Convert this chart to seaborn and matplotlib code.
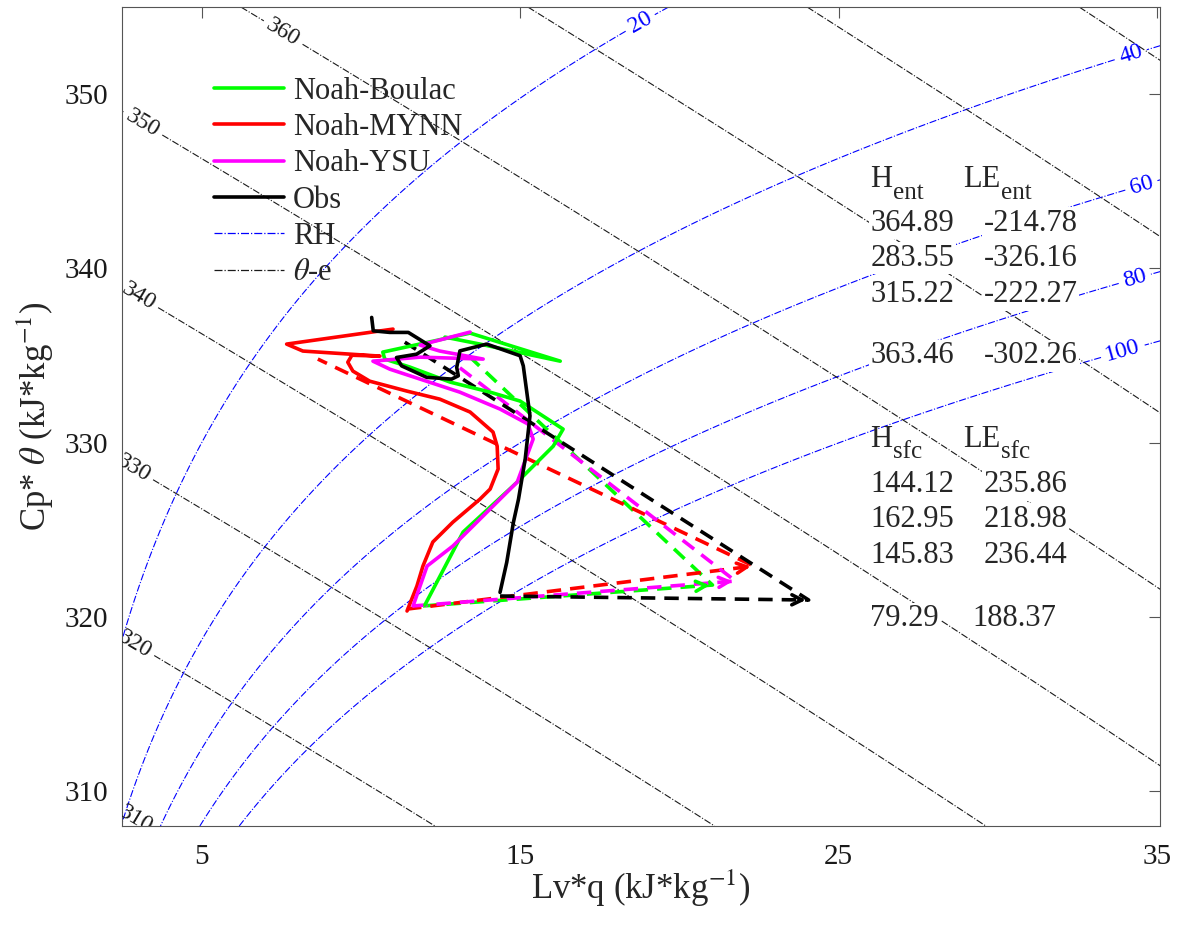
import numpy as np
import pandas as pd
import matplotlib
matplotlib.use("Agg")
import matplotlib.pyplot as plt
from matplotlib.lines import Line2D
import seaborn as sns

runs = ["Noah-Boulac", "Noah-MYNN", "Noah-YSU", "Obs"]
colors = {"Noah-Boulac": "#00ff00", "Noah-MYNN": "#ff0000",
          "Noah-YSU": "#ff00ff", "Obs": "#000000"}

# vertical profiles, Lv*q and Cp*theta (kJ/kg), from the surface up
boulac_q = [12.01, 13.21, 14.91, 16.04, 16.35, 15.00, 14.06, 12.80, 11.54, 10.75, 10.69, 13.43, 16.26, 13.74, 12.64]
boulac_t = [320.68, 324.87, 327.74, 329.80, 330.78, 332.39, 332.90, 333.48, 334.34, 334.80, 335.20, 336.29, 334.68, 335.66, 336.06]
mynn_q = [11.45, 11.76, 11.95, 12.26, 12.89, 13.74, 14.06, 14.31, 14.28, 14.15, 13.43, 12.48, 11.45, 10.28, 9.75, 9.59, 9.72, 10.60, 8.18, 7.67, 11.01]
mynn_t = [320.34, 321.77, 322.92, 324.30, 325.44, 326.76, 327.34, 328.49, 329.80, 330.61, 331.76, 332.50, 332.96, 333.53, 334.11, 334.62, 335.02, 334.97, 335.26, 335.66, 336.52]
ysu_q = [11.64, 12.08, 12.89, 14.91, 15.41, 15.25, 14.37, 13.11, 11.86, 10.91, 10.38, 11.86, 13.84, 12.48, 11.86, 13.43]
ysu_t = [320.63, 322.92, 324.07, 327.74, 330.21, 331.07, 331.93, 332.90, 333.65, 334.22, 334.68, 334.91, 334.80, 335.26, 335.60, 336.35]
obs_q = [14.37, 14.58, 14.79, 14.95, 15.16, 15.31, 15.10, 15.00, 13.95, 13.11, 13.01, 13.06, 12.85, 12.07, 11.28, 11.12, 11.75, 12.17, 11.49, 10.91, 10.39, 10.34]
obs_t = [321.41, 323.13, 325.43, 326.76, 329.06, 331.54, 334.41, 334.99, 335.66, 335.27, 334.32, 333.84, 333.65, 333.75, 334.41, 334.89, 335.08, 335.56, 336.33, 336.33, 336.42, 337.19]

# mixing diagram: initial state -> + surface flux -> + entrainment
mix_q = {"Noah-Boulac": [11.95, 21.04, 13.43],
         "Noah-MYNN": [11.45, 22.33, 8.65],
         "Noah-YSU": [11.64, 21.76, 12.96],
         "Obs": [14.37, 24.06, 11.38]}
mix_t = {"Noah-Boulac": [320.63, 321.83, 334.91],
         "Noah-MYNN": [320.45, 322.92, 334.80],
         "Noah-YSU": [320.63, 322.06, 334.51],
         "Obs": [321.20, 320.97, 335.77]}

h_ent = ["364.89", "283.55", "315.22", "363.46"]
le_ent = ["-214.78", "-326.16", "-222.27", "-302.26"]
h_sfc = ["144.12", "162.95", "145.83", "79.29"]
le_sfc = ["235.86", "218.98", "236.44", "188.37"]

rh_levels = [20, 40, 60, 80, 100]
the_levels = [300, 310, 320, 330, 340, 350, 360, 370, 380, 390, 400, 410, 420]

prof = pd.concat([
    pd.DataFrame({"Lvq": boulac_q, "Cpt": boulac_t, "run": "Noah-Boulac"}),
    pd.DataFrame({"Lvq": mynn_q, "Cpt": mynn_t, "run": "Noah-MYNN"}),
    pd.DataFrame({"Lvq": ysu_q, "Cpt": ysu_t, "run": "Noah-YSU"}),
    pd.DataFrame({"Lvq": obs_q, "Cpt": obs_t, "run": "Obs"}),
], ignore_index=True)
mix = pd.concat([pd.DataFrame({"Lvq": mix_q[r], "Cpt": mix_t[r], "run": r}) for r in runs],
                ignore_index=True)

sns.set_theme(style="white")
plt.rcParams["font.family"] = ["Liberation Serif", "DejaVu Serif"]
plt.rcParams["mathtext.fontset"] = "stix"

fig = plt.figure(figsize=(11.84, 9.38), dpi=100)
ax = fig.add_axes([0.103, 0.1194, 0.877, 0.873])
xmin, xmax, ymin, ymax = 2.5, 35.1, 308.0, 355.0

# background: RH and theta-e fields
p_rh = 563.0
p_the = 765.0
X, Y = np.meshgrid(np.linspace(xmin, xmax, 500), np.linspace(ymin, ymax, 500))
q = X / 2500.0
theta = Y / 1.005
T = theta * (p_rh / 1000.0) ** 0.286
es = 6.112 * np.exp(17.67 * (T - 273.15) / (T - 29.65))
qs = 0.622 * es / (p_rh - 0.378 * es)
rh = 100 * q / qs
the = theta * np.exp(X / (1.005 * theta * (p_the / 1000.0) ** 0.286))

c1 = ax.contour(X, Y, rh, levels=rh_levels, colors="blue", linestyles="-.", linewidths=0.8)
c2 = ax.contour(X, Y, the, levels=the_levels, colors="k", linestyles="-.", linewidths=0.8)
ax.clabel(c1, fmt="%d", fontsize=17, colors="blue", inline=True,
          manual=[(18.8, 354.0), (34.2, 352.1), (34.5, 344.8), (34.3, 339.4), (33.9, 335.4)])
ax.clabel(c2, fmt="%d", fontsize=17, colors="k", inline=True,
          manual=[(3.0, 308.6), (3.05, 318.9), (3.05, 329.1), (3.05, 338.5), (3.05, 348.0), (7.45, 353.2)])

sns.lineplot(data=mix, x="Lvq", y="Cpt", hue="run", palette=colors, sort=False,
             estimator=None, lw=2.6, linestyle=(0, (4, 2.5)), legend=False, ax=ax)
sns.lineplot(data=prof, x="Lvq", y="Cpt", hue="run", palette=colors, sort=False,
             estimator=None, lw=2.6, legend=False, ax=ax)

# open arrow heads at the end of the surface flux vectors
for r in runs:
    x0, x1 = mix_q[r][0], mix_q[r][1]
    y0, y1 = mix_t[r][0], mix_t[r][1]
    ax.annotate("", xy=(x1, y1), xytext=(x0 + 0.96 * (x1 - x0), y0 + 0.96 * (y1 - y0)),
                arrowprops=dict(arrowstyle="->,head_length=0.6,head_width=0.3",
                                color=colors[r], lw=2.6))

fs = 22
box = dict(fc="white", ec="none", pad=1)
tx1, txh, tx2 = 26.0, 28.9, 29.55


def header(x, y, main, sub):
    t = ax.text(x, y, main, fontsize=fs, va="center")
    ax.annotate(sub, xy=(1, 0.05), xycoords=t, xytext=(0.5, 0), textcoords="offset points",
                fontsize=18, va="center", ha="left")


header(tx1, 345.1, "H", "ent")
header(txh, 345.1, "LE", "ent")
for yy, a, b in zip([342.6, 340.6, 338.5, 335.0], h_ent, le_ent):
    ax.text(tx1, yy, a, fontsize=fs, va="center", bbox=box)
    ax.text(tx2, yy, b, fontsize=fs, va="center", bbox=box)
header(tx1, 330.2, "H", "sfc")
header(txh, 330.2, "LE", "sfc")
for yy, a, b, bx in zip([327.6, 325.6, 323.5, 319.9], h_sfc, le_sfc, [tx2, tx2, tx2, 29.2]):
    ax.text(tx1, yy, a, fontsize=fs, va="center", bbox=box)
    ax.text(bx, yy, b, fontsize=fs, va="center", bbox=box)

handles = [Line2D([], [], color=colors[r], lw=2.6) for r in runs]
handles += [Line2D([], [], color="blue", lw=0.9, ls="-."), Line2D([], [], color="k", lw=0.9, ls="-.")]
labels = runs + ["RH", r"$\theta$-e"]
ax.legend(handles, labels, loc="upper left", bbox_to_anchor=(0.077, 0.93), frameon=False,
          fontsize=22, handlelength=2.3, handletextpad=0.28, labelspacing=0.24, borderaxespad=0)

ax.set_xlim(xmin, xmax)
ax.set_ylim(ymin, ymax)
ax.set_xticks([5, 15, 25, 35])
ax.set_yticks([310, 320, 330, 340, 350])
ax.tick_params(direction="in", top=True, right=True, length=8, width=0.8, labelsize=21,
               colors="#555555", labelcolor="k")
ax.tick_params(axis="x", pad=13)
ax.tick_params(axis="y", pad=10)
for s in ax.spines.values():
    s.set_color("#555555")
    s.set_linewidth(0.8)
ax.set_xlabel(r"Lv*q (kJ*kg$^{-1}$)", fontsize=25, labelpad=-2)
ax.set_ylabel(r"Cp* $\theta$ (kJ*kg$^{-1}$)", fontsize=25, labelpad=6)

fig.savefig("out.png", dpi=100)
